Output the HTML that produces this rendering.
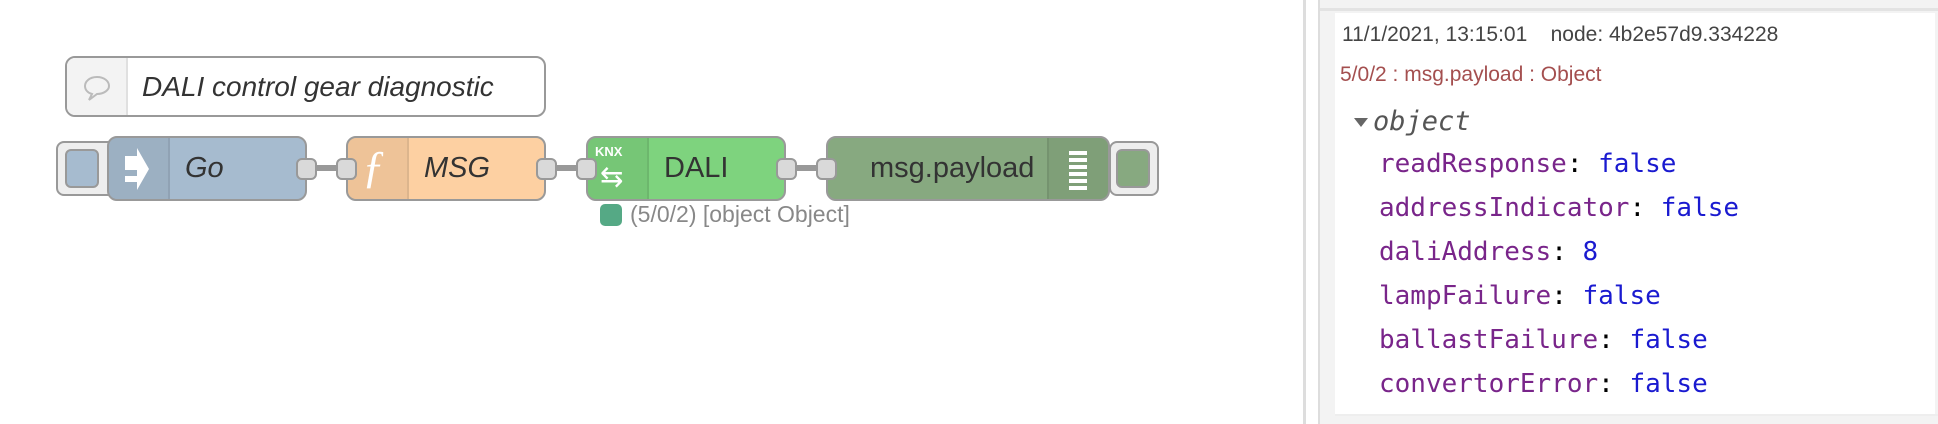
<!DOCTYPE html>
<html><head><style>
body{margin:0;width:1938px;height:424px;background:#fff;position:relative;overflow:hidden;font-family:"Liberation Sans",sans-serif}
.a{position:absolute;box-sizing:border-box}
.node{border:2px solid #999;border-radius:10px;height:65px;top:136px}
.ic{position:absolute;left:0;top:0;bottom:0;width:59px;background:rgba(0,0,0,0.06);border-right:2px solid rgba(0,0,0,0.08);border-radius:8px 0 0 8px}
.lbl{position:absolute;top:0;line-height:61px;font-size:29px;color:#333}
.port{position:absolute;width:21px;height:22px;background:#d9d9d9;border:2px solid #999;border-radius:6px;top:158px;box-sizing:border-box}
.link{position:absolute;height:6px;background:#999;top:165px}
.mono{font-family:"DejaVu Sans Mono","Liberation Mono",monospace;font-size:26px;position:absolute;left:1379px}
.k{color:#79258a}.v{color:#1a1ad0}
</style></head><body>
<div class="a" style="left:65px;top:56px;width:481px;height:61px;border:2px solid #999;border-radius:10px;background:#fff">
 <div style="position:absolute;left:0;top:0;bottom:0;width:59px;background:#f3f3f3;border-right:2px solid #e0e0e0;border-radius:8px 0 0 8px"></div>
 <svg style="position:absolute;left:15px;top:15px" width="30" height="30"><path d="M15 4C7 4 3 9 3 13c0 4 3 7 7 8l-3 6 8-6c7 0 12-4 12-8 0-5-5-9-12-9z" fill="none" stroke="#bbb" stroke-width="2"/></svg>
 <div class="lbl" style="left:75px;line-height:57px;font-style:italic;font-size:28px">DALI control gear diagnostic</div>
</div>
<div class="link" style="left:316px;width:30px"></div>
<div class="link" style="left:556px;width:30px"></div>
<div class="link" style="left:796px;width:30px"></div>
<div class="a" style="left:56px;top:141px;width:60px;height:55px;background:#eee;border:2px solid #999;border-radius:8px"></div>
<div class="a" style="left:65px;top:149px;width:34px;height:39px;background:#a6bbcf;border:2px solid #999;border-radius:6px"></div>
<div class="a node" style="left:107px;width:200px;background:#a6bbcf">
 <div class="ic"><svg width="59" height="61"><path d="M16 18h12v-8l12 21-12 21v-8H16v-6h12V32H16z" fill="#fff"/></svg></div>
 <div class="lbl" style="left:76px;font-style:italic">Go</div>
</div>
<div class="port" style="left:296px"></div>
<div class="a node" style="left:346px;width:200px;background:#fdd0a2">
 <div class="ic"><span style="position:absolute;left:14px;top:2px;font-size:46px;color:#fff;font-family:'Liberation Serif',serif;font-style:italic">ƒ</span></div>
 <div class="lbl" style="left:76px;font-style:italic">MSG</div>
</div>
<div class="port" style="left:336px"></div>
<div class="port" style="left:536px"></div>
<div class="a node" style="left:586px;width:200px;background:#7ed37e">
 <div class="ic"><span style="position:absolute;left:7px;top:6px;font-size:13px;color:#fff;font-weight:bold">KNX</span><span style="position:absolute;left:12px;top:22px;font-size:28px;color:#fff">⇆</span></div>
 <div class="lbl" style="left:76px">DALI</div>
</div>
<div class="port" style="left:576px"></div>
<div class="port" style="left:776px"></div>
<div class="a node" style="left:826px;width:284px;background:#87a980">
 <div style="position:absolute;right:0;top:0;bottom:0;width:59px;background:rgba(0,0,0,0.06);border-left:2px solid rgba(0,0,0,0.08);border-radius:0 8px 8px 0">
  <div style="position:absolute;left:20px;top:13px;width:18px;height:4px;background:#fff;box-shadow:0 7px #fff,0 14px #fff,0 21px #fff,0 28px #fff,0 35px #fff"></div></div>
 <div class="lbl" style="left:42px">msg.payload</div>
</div>
<div class="port" style="left:816px"></div>
<div class="a" style="left:1109px;top:141px;width:50px;height:55px;background:#eee;border:2px solid #999;border-radius:8px"></div>
<div class="a" style="left:1116px;top:149px;width:34px;height:39px;background:#87a980;border:2px solid #999;border-radius:6px"></div>
<div class="a" style="left:600px;top:204px;width:22px;height:22px;background:#55a985;border-radius:5px"></div>
<div class="a" style="left:630px;top:201px;font-size:23px;color:#888">(5/0/2) [object Object]</div>
<div class="a" style="left:1303px;top:0;width:3px;height:424px;background:#ddd"></div>
<div class="a" style="left:1318px;top:0;width:2px;height:424px;background:#ddd"></div>
<div class="a" style="left:1320px;top:0;width:618px;height:424px;background:#f3f3f3"></div>
<div class="a" style="left:1320px;top:8px;width:618px;height:3px;background:#e3e3e3"></div>
<div class="a" style="left:1335px;top:13px;width:600px;height:402px;background:#fff"></div>
<div class="a" style="left:1335px;top:414px;width:603px;height:2px;background:#eee"></div>
<div class="a" style="left:1342px;top:23px;font-size:21px;color:#444">11/1/2021, 13:15:01&nbsp;&nbsp;&nbsp; node: 4b2e57d9.334228</div>
<div class="a" style="left:1340px;top:63px;font-size:21px;color:#a44f4f">5/0/2 : msg.payload : Object</div>
<div class="a" style="left:1354px;top:118px;width:0;height:0;border-left:7px solid transparent;border-right:7px solid transparent;border-top:9px solid #666"></div>
<div class="mono" style="left:1373px;top:106px;color:#555;font-style:italic;font-size:27px">object</div>
<div class="mono" style="top:149px"><span class="k">readResponse</span>: <span class="v">false</span></div>
<div class="mono" style="top:193px"><span class="k">addressIndicator</span>: <span class="v">false</span></div>
<div class="mono" style="top:237px"><span class="k">daliAddress</span>: <span class="v">8</span></div>
<div class="mono" style="top:281px"><span class="k">lampFailure</span>: <span class="v">false</span></div>
<div class="mono" style="top:325px"><span class="k">ballastFailure</span>: <span class="v">false</span></div>
<div class="mono" style="top:369px"><span class="k">convertorError</span>: <span class="v">false</span></div>
</body></html>
